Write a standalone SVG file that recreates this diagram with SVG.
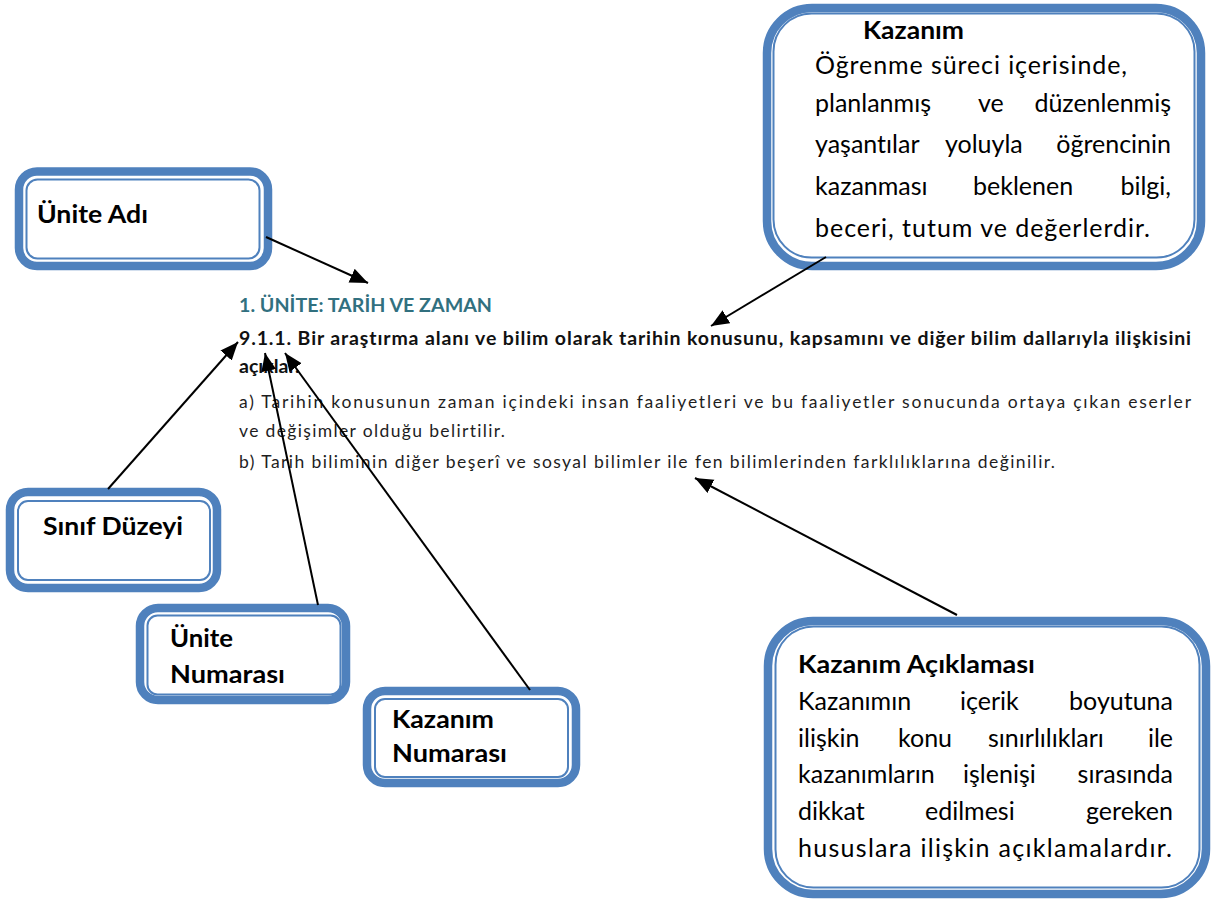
<svg xmlns="http://www.w3.org/2000/svg" width="1211" height="900" viewBox="0 0 1211 900">
<defs>
<style>
text{font-variant-ligatures:none}
.bg{fill:#ffffff}
.outer{fill:#ffffff;stroke:#4f81bd;stroke-width:8.5}
.inner{fill:none;stroke:#4f81bd;stroke-width:2}
.lbl{font-family:Lato,"Liberation Sans",sans-serif;font-weight:bold;font-size:25px;fill:#000}
.body{font-family:Lato,"Liberation Sans",sans-serif;font-size:25px;fill:#000}
.head{font-family:Lato,"Liberation Sans",sans-serif;font-size:19px;font-weight:bold;fill:#31707f}
.bold{font-family:Lato,"Liberation Sans",sans-serif;font-size:19.5px;font-weight:bold;fill:#111}
.reg{font-family:Lato,"Liberation Sans",sans-serif;font-size:17.5px;fill:#1e1e1e}
.conn{stroke:#000;stroke-width:2;fill:none;marker-end:url(#ah)}
</style>
<marker id="ah" markerUnits="userSpaceOnUse" markerWidth="20" markerHeight="16" refX="18" refY="7.5" orient="auto">
<path d="M0,0 L18,7.5 L0,15 z" fill="#000"/>
</marker>
</defs>
<rect class="bg" x="0" y="0" width="1211" height="900"/>

<g id="content">
<text class="head" x="239" y="312" textLength="253" lengthAdjust="spacingAndGlyphs">1. ÜNİTE: TARİH VE ZAMAN</text>
<text class="bold" x="239" y="345" textLength="952" lengthAdjust="spacing">9.1.1. Bir araştırma alanı ve bilim olarak tarihin konusunu, kapsamını ve diğer bilim dallarıyla ilişkisini</text>
<text class="bold" x="239" y="373">açıklar.</text>
<text class="reg" x="239" y="408" textLength="952" lengthAdjust="spacing">a) Tarihin konusunun zaman içindeki insan faaliyetleri ve bu faaliyetler sonucunda ortaya çıkan eserler</text>
<text class="reg" x="239" y="437" textLength="266" lengthAdjust="spacing">ve değişimler olduğu belirtilir.</text>
<text class="reg" x="239" y="468" textLength="816" lengthAdjust="spacing">b) Tarih biliminin diğer beşerî ve sosyal bilimler ile fen bilimlerinden farklılıklarına değinilir.</text>
</g>

<g id="unite-adi">
<rect class="outer" x="19" y="171.5" width="249" height="94.5" rx="18"/>
<rect class="inner" x="26.5" y="179.5" width="233" height="79" rx="11"/>
<text class="lbl" x="37" y="223" textLength="111" lengthAdjust="spacingAndGlyphs">Ünite Adı</text>
</g>

<g id="sinif-duzeyi">
<rect class="outer" x="10" y="492" width="207" height="96" rx="18"/>
<rect class="inner" x="18" y="501" width="192" height="79" rx="10"/>
<text class="lbl" x="43" y="535" textLength="140" lengthAdjust="spacingAndGlyphs">Sınıf Düzeyi</text>
</g>

<g id="unite-numarasi">
<rect class="outer" x="140" y="608" width="206" height="92" rx="18"/>
<rect class="inner" x="147.5" y="615.5" width="193" height="79" rx="10"/>
<text class="lbl" x="170" y="647" textLength="63" lengthAdjust="spacingAndGlyphs">Ünite</text>
<text class="lbl" x="170" y="683" textLength="115" lengthAdjust="spacingAndGlyphs">Numarası</text>
</g>

<g id="kazanim-numarasi">
<rect class="outer" x="367" y="691" width="209" height="92" rx="18"/>
<rect class="inner" x="375" y="699" width="193" height="78" rx="10"/>
<text class="lbl" x="392" y="728" textLength="102" lengthAdjust="spacingAndGlyphs">Kazanım</text>
<text class="lbl" x="392" y="762" textLength="115" lengthAdjust="spacingAndGlyphs">Numarası</text>
</g>

<g id="kazanim">
<rect class="outer" x="767" y="8" width="434" height="258" rx="45"/>
<rect class="inner" x="773.5" y="13.5" width="421" height="244" rx="38"/>
<text class="lbl" x="863" y="39" textLength="101" lengthAdjust="spacingAndGlyphs">Kazanım</text>
<text class="body" x="815" y="74" textLength="312" lengthAdjust="spacing">Öğrenme süreci içerisinde,</text>
<text class="body" y="112"><tspan x="815">planlanmış</tspan><tspan x="978">ve</tspan><tspan x="1171" text-anchor="end">düzenlenmiş</tspan></text>
<text class="body" y="153"><tspan x="815">yaşantılar</tspan><tspan x="945">yoluyla</tspan><tspan x="1171" text-anchor="end">öğrencinin</tspan></text>
<text class="body" y="195"><tspan x="815">kazanması</tspan><tspan x="973">beklenen</tspan><tspan x="1171" text-anchor="end">bilgi,</tspan></text>
<text class="body" x="815" y="237" textLength="335" lengthAdjust="spacing">beceri, tutum ve değerlerdir.</text>
</g>

<g id="kazanim-aciklamasi">
<rect class="outer" x="768" y="621" width="438" height="273" rx="45"/>
<rect class="inner" x="775.5" y="626.5" width="424" height="261" rx="38"/>
<text class="lbl" x="798" y="673" textLength="237" lengthAdjust="spacingAndGlyphs">Kazanım Açıklaması</text>
<text class="body" y="710"><tspan x="798">Kazanımın</tspan><tspan x="960">içerik</tspan><tspan x="1173" text-anchor="end">boyutuna</tspan></text>
<text class="body" y="747"><tspan x="798">ilişkin</tspan><tspan x="898">konu</tspan><tspan x="988">sınırlılıkları</tspan><tspan x="1173" text-anchor="end">ile</tspan></text>
<text class="body" y="783"><tspan x="798">kazanımların</tspan><tspan x="963">işlenişi</tspan><tspan x="1173" text-anchor="end">sırasında</tspan></text>
<text class="body" y="820"><tspan x="798">dikkat</tspan><tspan x="925">edilmesi</tspan><tspan x="1173" text-anchor="end">gereken</tspan></text>
<text class="body" x="798" y="857" textLength="374" lengthAdjust="spacing">hususlara ilişkin açıklamalardır.</text>
</g>

<g id="connectors">
<line class="conn" x1="266" y1="237" x2="368" y2="283"/>
<line class="conn" x1="826" y1="257" x2="711" y2="326"/>
<line class="conn" x1="108" y1="489" x2="238" y2="342"/>
<line class="conn" x1="318" y1="605" x2="265" y2="353"/>
<line class="conn" x1="530" y1="690" x2="285" y2="353"/>
<line class="conn" x1="957" y1="615" x2="695" y2="478"/>
</g>
</svg>
